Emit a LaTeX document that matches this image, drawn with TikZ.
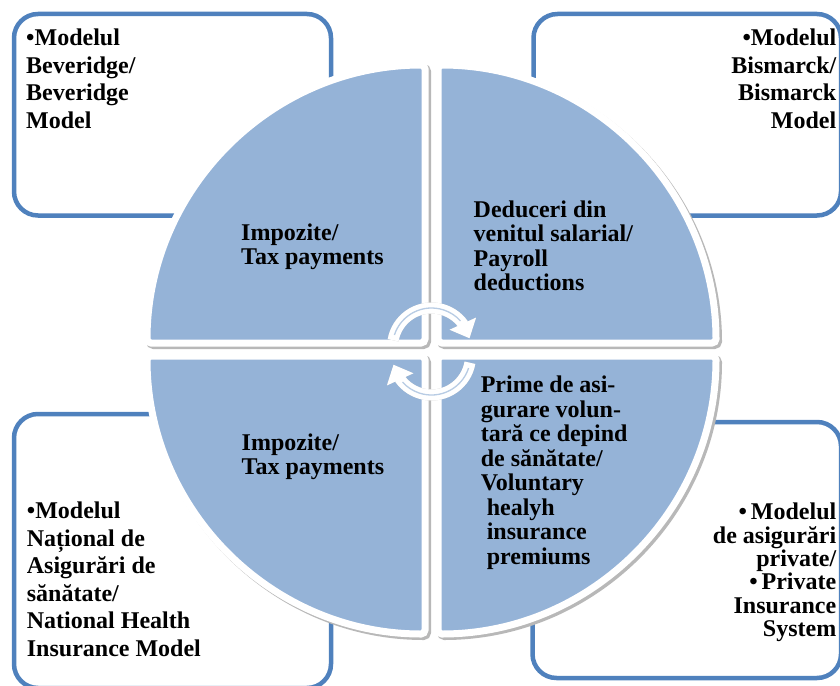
\documentclass[tikz,border=0pt]{standalone}
\usepackage{fontspec}
\setmainfont{Liberation Serif}
\usetikzlibrary{arrows.meta,bending}
\definecolor{quadblue}{HTML}{95B3D7}
\definecolor{boxblue}{HTML}{4F81BD}
\definecolor{arrowline}{HTML}{B8CCE4}
\tikzset{
  modelbox/.style={draw=boxblue, line width=4.5pt, rounded corners=24pt, fill=white},
  quad/.style={fill=quadblue, draw=white, line width=7pt, rounded corners=4pt},
  quadshadow/.style={fill=black!28, draw=black!28, line width=7pt, rounded corners=4pt},
  cyclearrow/.style={draw=white, line width=11pt, -{Triangle[length=16pt,width=28pt]}},
  arrowshadow/.style={draw=black!20, line width=11pt, -{Triangle[length=16pt,width=28pt]}},
  arrowstripe/.style={draw=arrowline, line width=1.3pt},
  boxtext/.style={inner sep=0pt, font=\bfseries\fontsize{24}{27.5}\selectfont},
  quadtext/.style={inner sep=0pt, align=left, font=\bfseries\fontsize{24}{24.5}\selectfont}
}
\begin{document}
\begin{tikzpicture}[x=1pt, y=-1pt]
  \useasboundingbox (0,0) rectangle (840,685);
  \draw[modelbox] (14,14) rectangle (331,215.5);
  \draw[modelbox] (533.5,14) rectangle (841,215.5);
  \draw[modelbox] (14,414) rectangle (331,688);
  \draw[modelbox] (532.5,422) rectangle (841,678);
  \begin{scope}[shift={(2.5,2.5)}]
    \draw[quadshadow] (425,343) -- (147,343) arc[start angle=180, end angle=270, radius=278] -- cycle;
    \draw[quadshadow] (438,343) -- (438,65) arc[start angle=270, end angle=360, radius=278] -- cycle;
    \draw[quadshadow] (438,356) -- (716,356) arc[start angle=0, end angle=90, radius=278] -- cycle;
    \draw[quadshadow] (425,356) -- (425,634) arc[start angle=90, end angle=180, radius=278] -- cycle;
  \end{scope}
  \draw[quad] (425,343) -- (147,343) arc[start angle=180, end angle=270, radius=278] -- cycle;
  \draw[quad] (438,343) -- (438,65) arc[start angle=270, end angle=360, radius=278] -- cycle;
  \draw[quad] (438,356) -- (716,356) arc[start angle=0, end angle=90, radius=278] -- cycle;
  \draw[quad] (425,356) -- (425,634) arc[start angle=90, end angle=180, radius=278] -- cycle;
  \coordinate (upc) at (431.5,347);
  \coordinate (loc) at (431.5,356);
  \begin{scope}[shift={(1.5,2)}]
    \draw[arrowshadow] ([shift={(190:39)}]upc) arc[start angle=190, end angle=347, radius=39];
    \draw[arrowshadow] ([shift={(10:39)}]loc) arc[start angle=10, end angle=167, radius=39];
  \end{scope}
  \draw[cyclearrow] ([shift={(190:39)}]upc) arc[start angle=190, end angle=347, radius=39];
  \draw[cyclearrow] ([shift={(10:39)}]loc) arc[start angle=10, end angle=167, radius=39];
  \draw[arrowstripe] ([shift={(198:39)}]upc) arc[start angle=198, end angle=318, radius=39];
  \draw[arrowstripe] ([shift={(18:39)}]loc) arc[start angle=18, end angle=138, radius=39];
  \node[boxtext, anchor=north west, align=left] (beveridge) at (26,28.7) {•Modelul\\Beveridge/\\Beveridge\\Model};
  \node[boxtext, anchor=north east, align=right] (bismarck) at (836.5,29) {•Modelul\\Bismarck/\\Bismarck\\Model};
  \node[boxtext, anchor=north west, align=left] (national) at (26.7,502) {•Modelul\\Național de\\Asigurări de\\sănătate/\\National Health\\Insurance Model};
  \node[boxtext, anchor=north east, align=right, font=\bfseries\fontsize{24}{23.3}\selectfont] (private) at (836.5,503) {•\,Modelul\\de asigurări\\private/\\•\,Private\\Insurance\\System};
  \node[quadtext, anchor=north west] (taxtop) at (241,223.4) {Impozite/\\Tax payments};
  \node[quadtext, anchor=north west] (payroll) at (473.5,200.4) {Deduceri din\\venitul salarial/\\Payroll\\deductions};
  \node[quadtext, anchor=north west] (taxbottom) at (241.5,433.4) {Impozite/\\Tax payments};
  \node[quadtext, anchor=north west] (premiums) at (480.6,376) {Prime de asi-\\gurare volun-\\tară ce depind\\de sănătate/\\Voluntary\\\hspace*{6pt}healyh\\\hspace*{6pt}insurance\\\hspace*{6pt}premiums};
\end{tikzpicture}
\end{document}
